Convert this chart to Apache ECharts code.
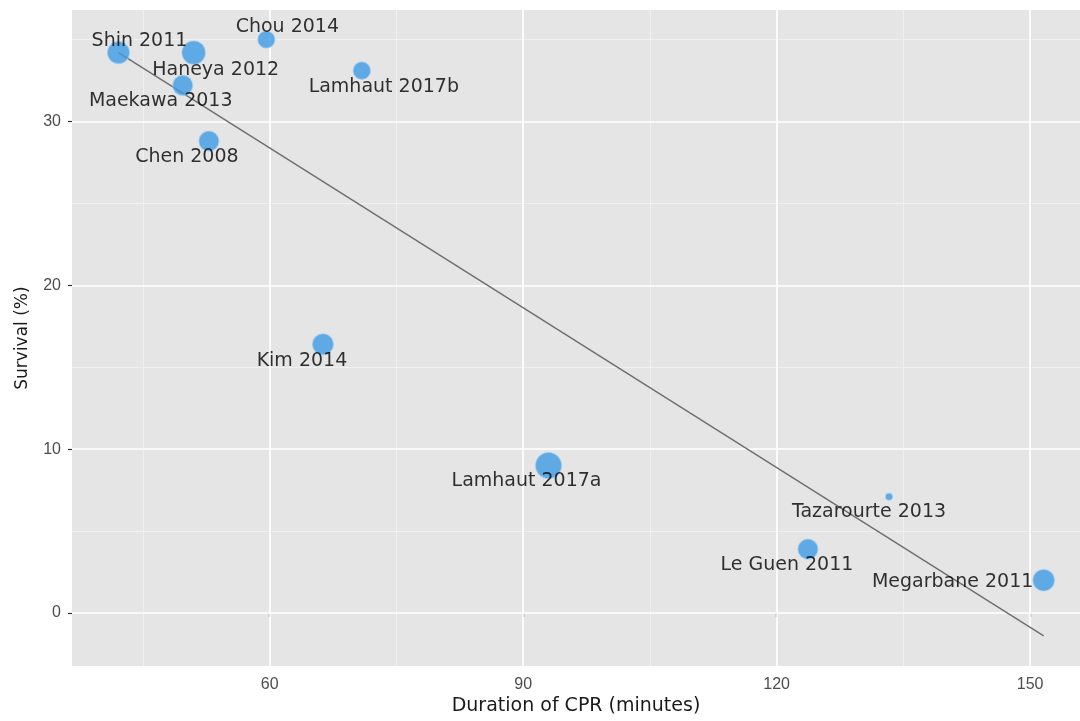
<!DOCTYPE html>
<html>
<head>
<meta charset="utf-8">
<title>Survival vs duration of CPR</title>
<script src="https://cdn.jsdelivr.net/npm/echarts@6/dist/echarts.min.js"></script>
<style>
  html, body { margin: 0; padding: 0; background: #ffffff; overflow: hidden; }
  #chart { width: 100vw; height: 100vh; display: block; }
</style>
</head>
<body>
<div id="chart"></div>
<script>
// Studies: label, CPR duration (minutes), survival (%), relative study weight
const studies = ['Shin 2011', 'Haneya 2012', 'Chou 2014', 'Maekawa 2013', 'Lamhaut 2017b',
  'Chen 2008', 'Kim 2014', 'Lamhaut 2017a', 'Tazarourte 2013', 'Le Guen 2011', 'Megarbane 2011'];
const duration = [42.1, 51.0, 59.6, 49.7, 70.9, 52.8, 66.3, 93.0, 133.3, 123.7, 151.6];
const survival = [34.2, 34.2, 35.0, 32.2, 33.1, 28.8, 16.4, 9.0, 7.1, 3.9, 2.0];
const weight = [23, 26, 14, 19, 14.5, 19, 21, 32, 2.3, 19, 22];

// Fitted meta-regression line, evaluated at the shortest and longest durations
const fitDuration = [42.1, 151.6];
const fitSurvival = [34.2, -1.4];

// Axis breaks
const xMajor = [60, 90, 120, 150];
const xMinor = [45, 75, 105, 135];
const yMajor = [0, 10, 20, 30];
const yMinor = [5, 15, 25, 35];

// Where each study's label sits relative to its bubble (pixels)
const labelOffset = [[21, -12], [22, 17], [21, -12], [-22, 16], [22, 16], [-22, 16],
  [-21, 17], [-22, 16], [-20, 15], [-21, 16], [-91, 2]];

const chart = echarts.init(document.getElementById('chart'), null, { renderer: 'canvas' });

const minorStyle = { type: 'solid', width: 0.8, color: '#f3f3f3' };
const majorStyle = { type: 'solid', width: 1.7, color: '#ffffff' };
const gridLines = []
  .concat(xMinor.map(v => ({ xAxis: v, lineStyle: minorStyle })))
  .concat(yMinor.map(v => ({ yAxis: v, lineStyle: minorStyle })))
  .concat(xMajor.map(v => ({ xAxis: v, lineStyle: majorStyle })))
  .concat(yMajor.map(v => ({ yAxis: v, lineStyle: majorStyle })));

const points = studies.map((name, i) => ({
  name: name,
  value: [duration[i], survival[i]],
  symbolSize: 4.6 * Math.sqrt(weight[i])
}));

const option = {
  animation: false,
  backgroundColor: '#ffffff',
  grid: {
    left: '6.667%', right: 0, top: '1.387%', bottom: '6.796%',
    show: true, backgroundColor: '#e5e5e5', borderWidth: 0
  },
  xAxis: {
    type: 'value',
    min: 36.6, max: 155.9,
    name: 'Duration of CPR (minutes)',
    nameLocation: 'middle',
    nameGap: 29,
    nameTextStyle: { fontFamily: 'DejaVu Sans', fontSize: 19, color: '#1a1a1a' },
    axisLine: { show: false },
    splitLine: { show: false },
    axisTick: { show: true, length: 4, customValues: xMajor, lineStyle: { color: '#333333', width: 1.2 } },
    axisLabel: { customValues: xMajor, margin: 10, fontFamily: 'Liberation Sans', fontSize: 16, color: '#4d4d4d' }
  },
  yAxis: {
    type: 'value',
    min: -3.24, max: 36.8,
    name: 'Survival (%)',
    nameLocation: 'middle',
    nameGap: 41,
    nameRotate: 90,
    nameTextStyle: { fontFamily: 'DejaVu Sans', fontSize: 17, color: '#1a1a1a' },
    axisLine: { show: false },
    splitLine: { show: false },
    axisTick: { show: true, length: 4, customValues: yMajor, lineStyle: { color: '#333333', width: 1.2 } },
    axisLabel: { customValues: yMajor, margin: 11, fontFamily: 'Liberation Sans', fontSize: 16, color: '#4d4d4d' }
  },
  series: [
    {
      // panel grid lines, kept underneath the marks
      type: 'scatter',
      data: [],
      z: 1,
      silent: true,
      markLine: {
        z: 1,
        silent: true,
        animation: false,
        symbol: ['none', 'none'],
        label: { show: false },
        emphasis: { disabled: true },
        data: gridLines
      }
    },
    {
      type: 'line',
      z: 10,
      silent: true,
      data: fitDuration.map((x, i) => [x, fitSurvival[i]]),
      symbol: 'none',
      lineStyle: { color: '#6e6e6e', width: 1.4 }
    },
    {
      type: 'scatter',
      z: 11,
      data: points,
      itemStyle: { color: '#3d9be3', borderColor: 'rgba(160,205,240,0.7)', borderWidth: 1.2 },
      label: {
        show: true,
        position: 'inside',
        formatter: p => p.name,
        fontFamily: 'DejaVu Sans',
        fontSize: 19,
        color: '#000000',
        textBorderWidth: 0
      },
      labelLayout: params => ({
        dx: labelOffset[params.dataIndex][0],
        dy: labelOffset[params.dataIndex][1],
        hideOverlap: false
      })
    }
  ]
};

chart.setOption(option);
</script>
</body>
</html>
